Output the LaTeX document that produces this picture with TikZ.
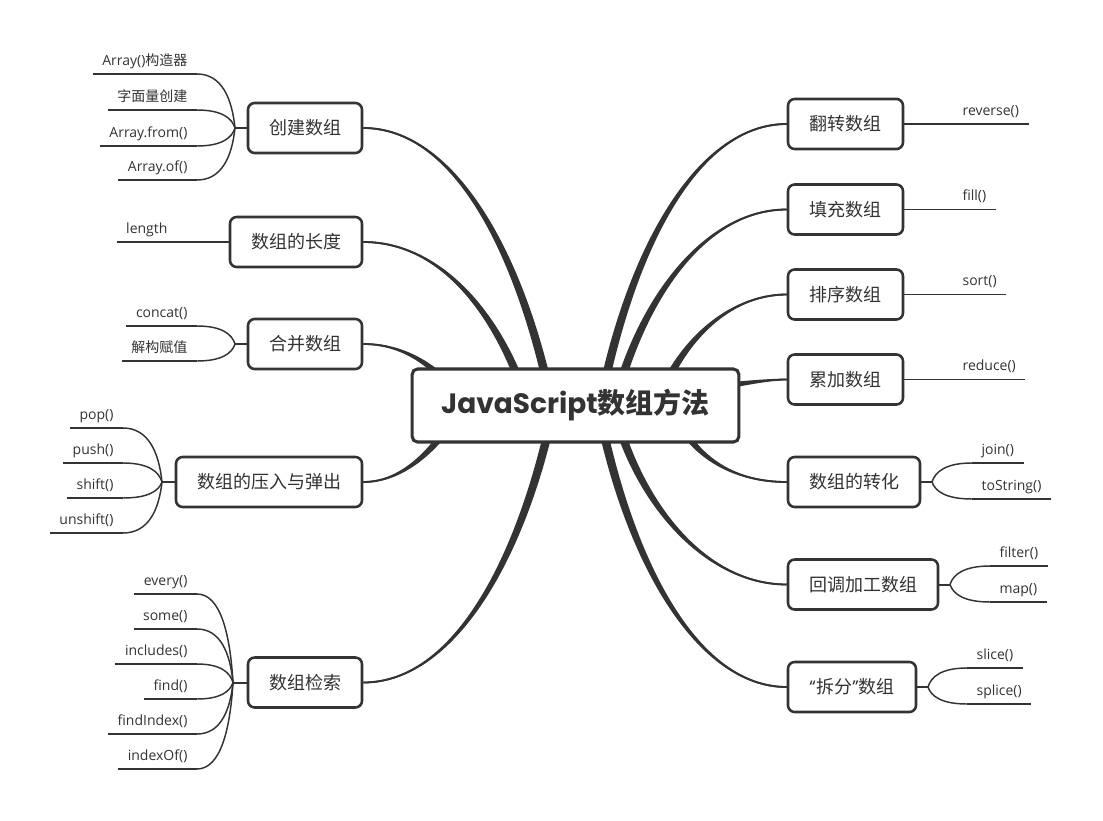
\documentclass[tikz,border=0pt]{standalone}
\usepackage{fontspec}
\setmainfont{Open Sans}
\newfontfamily\cjk{Noto Sans CJK SC}
\newfontfamily\popf{Poppins}
\usetikzlibrary{calc,backgrounds}
\definecolor{ink}{HTML}{333333}
\newcommand\mainbranch[5]{%
  \fill[ink] (#1) .. controls +(#3) and +(#4) .. ($(#2)+(#5)$) -- ($(#2)-(#5)$) .. controls +(#4) and +(#3) .. (#1) -- cycle;
  \draw[ink,line width=1.35pt] (#1) .. controls +(#3) and +(#4) .. ($(#2)+(#5)$);
  \draw[ink,line width=1.35pt] (#1) .. controls +(#3) and +(#4) .. ($(#2)-(#5)$);}
\begin{document}
\begin{tikzpicture}[x=0.75pt,y=-0.75pt,
  topic/.style={draw=ink, line width=1.9pt, rounded corners=5pt, fill=white, text=ink,
    font=\cjk\fontsize{13.5pt}{16pt}\selectfont, minimum height=37.5pt, inner sep=0pt},
  root/.style={draw=ink, line width=2.3pt, rounded corners=4pt, fill=white, text=ink,
    minimum width=245pt, minimum height=54.75pt, inner sep=0pt},
  leaf/.style={text=ink, font=\fontsize{10.5pt}{12pt}\selectfont, text height=7.5pt,
    text depth=2.25pt, inner xsep=7pt, inner ysep=0pt, minimum height=18pt},
  twig/.style={draw=ink, line width=1.1pt},
  fan/.style={twig, to path={let \p1=(\tikztostart), \p2=(\tikztotarget) in
    .. controls ({\x1+0.08*(\x2-\x1)},{\y1+0.55*(\y2-\y1)}) and ({\x2-0.65*(\x2-\x1)},\y2) .. (\tikztotarget)}},
]
\useasboundingbox (0,0) rectangle (1103,821);
\begin{pgfonlayer}{background}
\fill[white] (0,0) rectangle (1103,821);
\end{pgfonlayer}

% root
\node[root] (root) at (575.5,405.5) {\fontsize{21pt}{24pt}\selectfont{\popf\bfseries JavaScript}{\cjk\bfseries 数组方法}};

% left topics
\node[topic, minimum width=85.5pt] (create) at (305,128) {创建数组};
\node[topic, minimum width=99pt] (length) at (296,242) {数组的长度};
\node[topic, minimum width=85.5pt] (merge) at (305,344) {合并数组};
\node[topic, minimum width=139.5pt] (push) at (269,482) {数组的压入与弹出};
\node[topic, minimum width=85.5pt] (search) at (305,682.5) {数组检索};
% right topics
\node[topic, minimum width=86.25pt] (reverse) at (845.5,124) {翻转数组};
\node[topic, minimum width=86.25pt] (fillarr) at (845.5,209.5) {填充数组};
\node[topic, minimum width=86.25pt] (sortarr) at (845.5,294.5) {排序数组};
\node[topic, minimum width=86.25pt] (reduce) at (845.5,379.5) {累加数组};
\node[topic, minimum width=99pt] (trans) at (854,482) {数组的转化};
\node[topic, minimum width=112.5pt] (cb) at (863,584.5) {回调加工数组};
\node[topic, minimum width=96pt] (split) at (852,687) {{\popf “}拆分{\popf ”}数组};

% targets inside root
\coordinate (tA) at ($(root.center)+(-23.5,0)$);
\coordinate (tB) at ($(root.center)+(-47.5,0)$);
\coordinate (tC) at ($(root.center)+(-110.5,0)$);
\coordinate (tD) at ($(root.center)+(-113.5,0)$);
\coordinate (tE) at ($(root.center)+(-21.5,0)$);
\coordinate (tF) at ($(root.center)+(24.5,0)$);
\coordinate (tG) at ($(root.center)+(38.5,0)$);
\coordinate (tH) at ($(root.center)+(81.5,0)$);
\coordinate (tI) at ($(root.center)+(124.5,-15.5)$);
\coordinate (tJ) at ($(root.center)+(94.5,0)$);
\coordinate (tK) at ($(root.center)+(37.5,0)$);
\coordinate (tL) at ($(root.center)+(22.5,0)$);

\begin{pgfonlayer}{background}
\mainbranch{create.east}{tA}{90,0}{-32,-155}{3.5,0}
\mainbranch{length.east}{tB}{78,0}{-28,-90}{3.5,0}
\mainbranch{merge.east}{tC}{50,0}{-18,-28}{2.5,-2}
\mainbranch{push.east}{tD}{45,0}{-20,35}{2.5,2}
\mainbranch{search.east}{tE}{90,0}{-32,155}{3.5,0}
\mainbranch{reverse.west}{tF}{-90,0}{30,-155}{3.5,0}
\mainbranch{fillarr.west}{tG}{-80,0}{28,-110}{3.5,0}
\mainbranch{sortarr.west}{tH}{-60,0}{20,-60}{3.5,0}
\mainbranch{reduce.west}{tI}{-25,0}{20,-3}{0,3}
\mainbranch{trans.west}{tJ}{-55,0}{20,50}{3.5,0}
\mainbranch{cb.west}{tK}{-80,0}{25,100}{3.5,0}
\mainbranch{split.west}{tL}{-90,0}{30,155}{3.5,0}
\end{pgfonlayer}

% junctions
\coordinate (j1) at (235,128);
\coordinate (j3) at (235,344);
\coordinate (j4) at (162,482);
\coordinate (j5) at (233,682.5);
\coordinate (j8) at (932,482);
\coordinate (j9) at (950,584.5);
\coordinate (j10) at (928,687);

% create leaves
\node[leaf, anchor=south east] (c1) at (197,74) {Array(){\cjk 构造器}};
\node[leaf, anchor=south east] (c2) at (197,110) {\cjk 字面量创建};
\node[leaf, anchor=south east] (c3) at (197,146) {Array.from()};
\node[leaf, anchor=south east] (c4) at (197,180) {Array.of()};
% length leaf
\node[leaf, anchor=south east] (l1) at (177,242) {length};
% merge leaves
\node[leaf, anchor=south east] (m1) at (197,326) {concat()};
\node[leaf, anchor=south east] (m2) at (197,361) {\cjk 解构赋值};
% push leaves
\node[leaf, anchor=south east] (p1) at (123,428) {pop()};
\node[leaf, anchor=south east] (p2) at (123,463) {push()};
\node[leaf, anchor=south east] (p3) at (123,498) {shift()};
\node[leaf, anchor=south east] (p4) at (123,533) {unshift()};
% search leaves
\node[leaf, anchor=south east] (s1) at (197,594) {every()};
\node[leaf, anchor=south east] (s2) at (197,629) {some()};
\node[leaf, anchor=south east] (s3) at (197,664) {includes()};
\node[leaf, anchor=south east] (s4) at (197,699) {find()};
\node[leaf, anchor=south east] (s5) at (197,734) {findIndex()};
\node[leaf, anchor=south east] (s6) at (197,769) {indexOf()};
% right single leaves
\node[leaf, anchor=south west] (r1) at (953,124) {reverse()};
\node[leaf, anchor=south west] (r2) at (953,209.5) {fill()};
\node[leaf, anchor=south west] (r3) at (953,294.5) {sort()};
\node[leaf, anchor=south west] (r4) at (953,379.5) {reduce()};
% trans leaves
\node[leaf, anchor=south west] (t1) at (972,463) {join()};
\node[leaf, anchor=south west] (t2) at (972,499) {toString()};
% callback leaves
\node[leaf, anchor=south west] (k1) at (990,566) {filter()};
\node[leaf, anchor=south west] (k2) at (990,602) {map()};
% split leaves
\node[leaf, anchor=south west] (x1) at (967,668) {slice()};
\node[leaf, anchor=south west] (x2) at (967,704) {splice()};

% underlines
\foreach \lf in {c1,c2,c3,c4,l1,m1,m2,p1,p2,p3,p4,s1,s2,s3,s4,s5,s6,r1,r2,r3,r4,t1,t2,k1,k2,x1,x2}
  \draw[twig] (\lf.south west) -- (\lf.south east);

% stubs
\draw[twig, line width=1.5pt] (create.west) -- (j1);
\draw[twig, line width=1.5pt] (merge.west) -- (j3);
\draw[twig, line width=1.5pt] (push.west) -- (j4);
\draw[twig, line width=1.5pt] (search.west) -- (j5);
\draw[twig, line width=1.5pt] (trans.east) -- (j8);
\draw[twig, line width=1.5pt] (cb.east) -- (j9);
\draw[twig, line width=1.5pt] (split.east) -- (j10);
\draw[twig] (length.west) -- (l1.south east);
\draw[twig] (reverse.east) -- (r1.south west);
\draw[twig] (fillarr.east) -- (r2.south west);
\draw[twig] (sortarr.east) -- (r3.south west);
\draw[twig] (reduce.east) -- (r4.south west);

% fans
\foreach \lf in {c1,c2,c3,c4} \draw[fan] (j1) to (\lf.south east);
\foreach \lf in {m1,m2} \draw[fan] (j3) to (\lf.south east);
\foreach \lf in {p1,p2,p3,p4} \draw[fan] (j4) to (\lf.south east);
\foreach \lf in {s1,s2,s3,s4,s5,s6} \draw[fan] (j5) to (\lf.south east);
\foreach \lf in {t1,t2} \draw[fan] (j8) to (\lf.south west);
\foreach \lf in {k1,k2} \draw[fan] (j9) to (\lf.south west);
\foreach \lf in {x1,x2} \draw[fan] (j10) to (\lf.south west);
\end{tikzpicture}
\end{document}
